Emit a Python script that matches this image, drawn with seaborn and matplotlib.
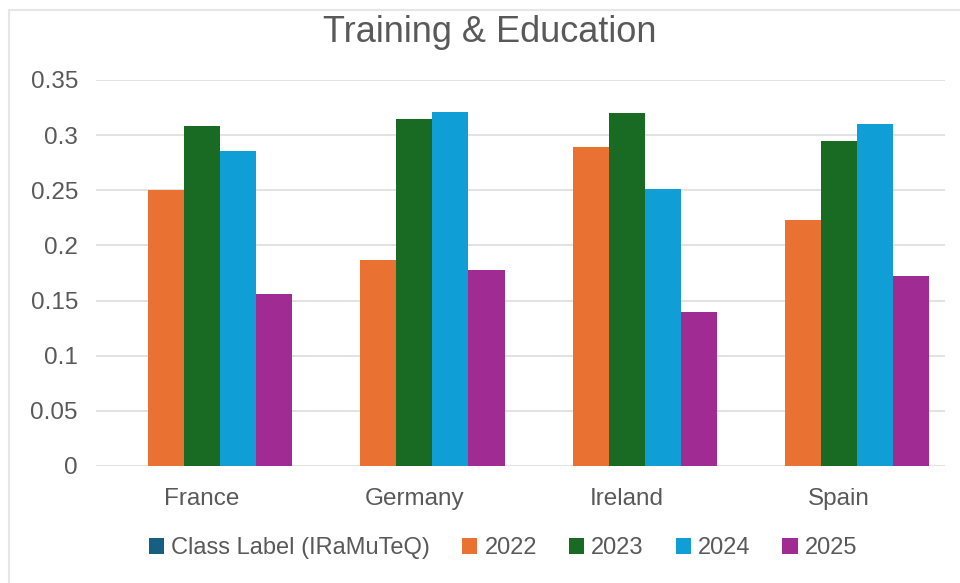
import matplotlib
matplotlib.use("Agg")
import matplotlib.pyplot as plt
from matplotlib.patches import Patch, Rectangle
import seaborn as sns
import pandas as pd
import numpy as np

categories = ["France", "Germany", "Ireland", "Spain"]
series_names = ["Class Label (IRaMuTeQ)", "2022", "2023", "2024", "2025"]
class_label = [np.nan, np.nan, np.nan, np.nan]
v2022 = [0.250, 0.187, 0.289, 0.223]
v2023 = [0.308, 0.315, 0.320, 0.295]
v2024 = [0.286, 0.321, 0.251, 0.310]
v2025 = [0.156, 0.178, 0.140, 0.172]
colors = ["#156082", "#E97132", "#196B24", "#0F9ED5", "#A02B93"]
yticks = [0, 0.05, 0.1, 0.15, 0.2, 0.25, 0.3, 0.35]
ytick_labels = ["0", "0.05", "0.1", "0.15", "0.2", "0.25", "0.3", "0.35"]

rows = []
for name, vals in zip(series_names, [class_label, v2022, v2023, v2024, v2025]):
    for c, v in zip(categories, vals):
        rows.append({"Country": c, "Series": name, "Value": 0.0 if np.isnan(v) else v})
df = pd.DataFrame(rows)

sns.set_theme(style="white")
plt.rcParams["font.family"] = ["Liberation Sans", "DejaVu Sans"]

fig = plt.figure(figsize=(9.6, 5.83), dpi=100)
ax = fig.add_axes([96/960, 1 - 466/583, (945 - 96)/960, (466 - 80)/583])

sns.barplot(data=df, x="Country", y="Value", hue="Series", order=categories,
            hue_order=series_names, palette=colors, saturation=1, width=0.85, gap=0,
            linewidth=0, edgecolor="none", ax=ax, legend=False)

ax.set_xlim(-0.5, 3.5)
ax.set_ylim(0, 0.35)
ax.set_yticks(yticks)
ax.set_yticklabels(ytick_labels)
ax.set_xlabel("")
ax.set_ylabel("")
ax.yaxis.grid(True, color="#DDDDDD", linewidth=1.2)
ax.set_axisbelow(True)
for s in ax.spines.values():
    s.set_visible(False)
ax.tick_params(axis="both", length=0, labelsize=17.5, colors="#595959")
ax.tick_params(axis="y", pad=13)
ax.tick_params(axis="x", pad=16)
ax.patch.set_alpha(0)

fig.text(0.51, 1 - 33/583, "Training & Education", ha="center", va="center",
         fontsize=26, color="#595959")

handles = [Patch(facecolor=c, edgecolor="none") for c in colors]
fig.legend(handles, series_names, loc="center", bbox_to_anchor=(0.524, 1 - 548/583),
           ncol=5, frameon=False, fontsize=17, labelcolor="#595959",
           handlelength=0.65, handleheight=0.65, handletextpad=0.3,
           columnspacing=1.35, borderaxespad=0)

fig.patches.append(Rectangle((8.5/960, -0.1), 1.2, 1.1 - 10.5/583 + 0.0,
                             transform=fig.transFigure, fill=False,
                             edgecolor="#E6E6E6", linewidth=1.5, zorder=-1))

fig.savefig("out.png", dpi=100)
